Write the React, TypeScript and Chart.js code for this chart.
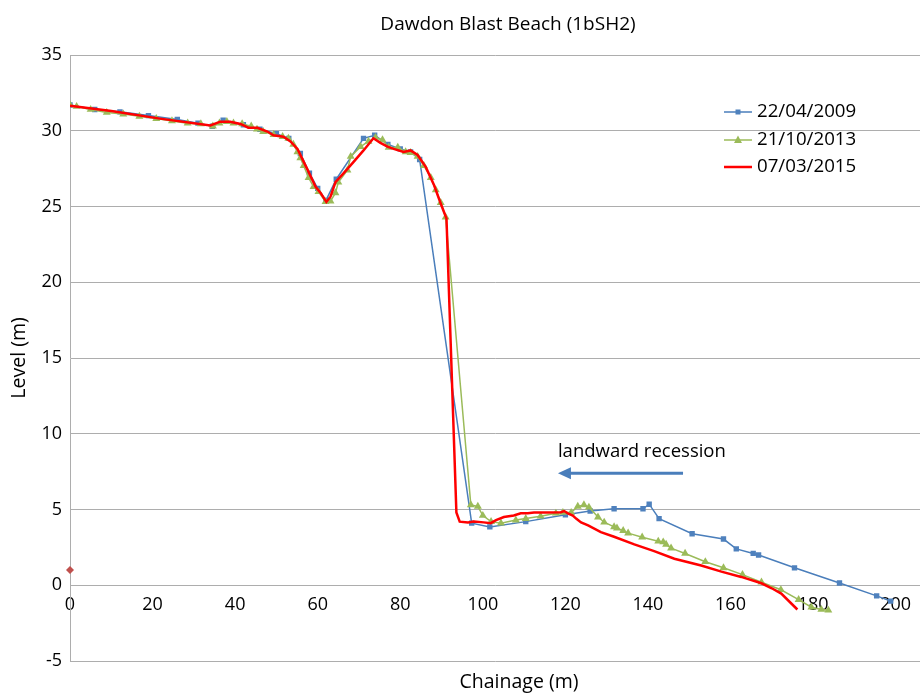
import React, { useEffect, useRef } from "react";
import { Chart, registerables } from "chart.js";

Chart.register(...registerables);

const chartTitle = "Dawdon Blast Beach (1bSH2)";
const xAxisTitle = "Chainage (m)";
const yAxisTitle = "Level (m)";
const annotationText = "landward recession";
const seriesLabels = ["22/04/2009", "21/10/2013", "07/03/2015"];

const xTickValues = [0, 20, 40, 60, 80, 100, 120, 140, 160, 180, 200];
const yTickValues = [-5, 0, 5, 10, 15, 20, 25, 30, 35];

const chainage2009 = [0, 6, 12.1, 19, 26, 31, 34.5, 37.1, 42, 46, 50, 53, 55.8, 58, 60, 62, 64.5, 71.1, 73.8, 77, 80, 82.5, 84.7, 97.3, 101.7, 110.4, 120, 126, 131.8, 138.8, 140.3, 142.7, 150.7, 158.3, 161.4, 165.5, 166.8, 175.5, 186.4, 195.4, 198.8];
const level2009 = [31.7, 31.4, 31.25, 31.0, 30.75, 30.5, 30.3, 30.7, 30.4, 30.1, 29.8, 29.5, 28.5, 27.2, 26.2, 25.4, 26.8, 29.5, 29.7, 29.1, 28.8, 28.6, 28.1, 4.1, 3.85, 4.2, 4.65, 4.9, 5.05, 5.05, 5.35, 4.4, 3.4, 3.05, 2.4, 2.1, 2.0, 1.15, 0.15, -0.7, -1.05];

const chainage2013 = [0, 1.6, 5, 8.9, 12.9, 16.8, 20.9, 24.7, 28.5, 31.7, 34.6, 36.2, 38, 39.6, 41.7, 43.9, 45.3, 46.8, 49.3, 51.5, 52.9, 54.1, 55.1, 55.8, 56.6, 57.8, 59, 60.2, 61.9, 63.1, 64.3, 65, 67.2, 68, 70.4, 72.3, 74, 75.7, 77.2, 79.4, 81.3, 82.5, 84.2, 85.7, 87.4, 88.6, 89.8, 91, 97.1, 98.8, 100, 102, 104.4, 108, 110.4, 114, 117.7, 119.4, 121.4, 123, 124.5, 125.7, 127.9, 129.4, 131.8, 132.5, 134, 135.2, 138.6, 142.5, 143.7, 144.4, 145.6, 149, 153.9, 158.3, 162.9, 167.5, 172.2, 176.5, 179.6, 182, 183.7];
const level2013 = [31.7, 31.6, 31.4, 31.2, 31.1, 30.95, 30.8, 30.65, 30.5, 30.45, 30.3, 30.5, 30.6, 30.5, 30.45, 30.3, 30.1, 29.94, 29.74, 29.61, 29.5, 29.1, 28.6, 28.2, 27.7, 26.9, 26.3, 25.97, 25.31, 25.35, 25.9, 26.6, 27.4, 28.3, 28.95, 29.3, 29.55, 29.4, 28.9, 28.9, 28.6, 28.55, 28.3, 27.7, 26.9, 26.1, 25.25, 24.3, 5.3, 5.2, 4.6, 4.2, 4.1, 4.3, 4.4, 4.55, 4.75, 4.8, 4.8, 5.2, 5.3, 5.15, 4.5, 4.16, 3.85, 3.77, 3.6, 3.44, 3.17, 2.9, 2.85, 2.7, 2.45, 2.1, 1.55, 1.15, 0.7, 0.2, -0.3, -0.95, -1.45, -1.6, -1.65];

const chainage2015 = [0, 10, 21.8, 34, 36.4, 38.8, 41.3, 43.2, 45.4, 47.8, 49.3, 51.7, 53.4, 55.1, 57.5, 59.5, 60.7, 62.1, 63.1, 64.3, 66.3, 68.7, 71.1, 73.5, 75.2, 76.9, 78.4, 80.8, 82.5, 84.2, 86.2, 88.2, 89.8, 91.2, 93.6, 94.4, 96.4, 97.8, 100.2, 101.9, 103.2, 105.1, 107.5, 109.2, 110.9, 112.4, 115.8, 118.9, 119.7, 120.6, 121.8, 122.6, 123.8, 125.5, 128.6, 131.8, 136.7, 141.5, 146.4, 152.9, 157.8, 162.6, 167.5, 170, 172.3, 176.2];
const level2015 = [31.65, 31.3, 30.8, 30.35, 30.6, 30.6, 30.45, 30.2, 30.2, 29.95, 29.7, 29.6, 29.3, 28.8, 27.45, 26.3, 25.9, 25.3, 25.65, 26.6, 27.2, 27.95, 28.7, 29.5, 29.2, 28.95, 28.8, 28.6, 28.7, 28.4, 27.6, 26.4, 25.2, 24.2, 4.8, 4.2, 4.15, 4.2, 4.15, 4.1, 4.3, 4.5, 4.6, 4.75, 4.75, 4.8, 4.8, 4.82, 4.9, 4.75, 4.6, 4.4, 4.15, 3.95, 3.5, 3.2, 2.7, 2.25, 1.75, 1.3, 0.9, 0.55, 0.13, -0.2, -0.55, -1.6];

const markerChainage = [0];
const markerLevel = [1.0];

// annotation arrow (data space)
const arrowFrom = { x: 148.5, y: 7.4 };
const arrowTo = { x: 118.2, y: 7.4 };
const annotationAt = { x: 118.2, y: 8.8 };

const FONT = "'Open Sans', sans-serif";
const BLUE_LINE = "#4A7EBB";
const BLUE_MARK = "#4F81BD";
const GREEN = "#9BBB59";
const RED = "#FF0000";
const DIAMOND = "#C0504D";
const GRID = "#ADADAD";

const toPoints = (xs: number[], ys: number[]) => xs.map((x, i) => ({ x, y: ys[i] }));

const textPlugin = {
  id: "texts",
  afterDraw(chart: any) {
    const ctx = chart.ctx as CanvasRenderingContext2D;
    const xs = chart.scales.x;
    const ys = chart.scales.y;
    ctx.save();
    ctx.fillStyle = "#000";
    // title
    ctx.font = `19px ${FONT}`;
    ctx.textAlign = "center";
    ctx.textBaseline = "middle";
    ctx.fillText(chartTitle, 508, 25);
    // x title
    ctx.font = `19.5px ${FONT}`;
    ctx.fillText(xAxisTitle, 519, 682);
    // y title
    ctx.save();
    ctx.translate(19, 358);
    ctx.rotate(-Math.PI / 2);
    ctx.fillText(yAxisTitle, 0, 0);
    ctx.restore();

    // legend
    const lx = 724;
    const rowY = [112, 140, 167];
    const styles = [
      { color: BLUE_LINE, mark: "rect", fill: BLUE_MARK, w: 1.5 },
      { color: GREEN, mark: "triangle", fill: GREEN, w: 1.5 },
      { color: RED, mark: "none", fill: RED, w: 2.5 },
    ];
    seriesLabels.forEach((label, i) => {
      const y = rowY[i];
      const s = styles[i];
      ctx.strokeStyle = s.color;
      ctx.lineWidth = s.w;
      ctx.beginPath();
      ctx.moveTo(lx, y);
      ctx.lineTo(lx + 28, y);
      ctx.stroke();
      ctx.fillStyle = s.fill;
      if (s.mark === "rect") {
        ctx.fillRect(lx + 11.5, y - 2.5, 5, 5);
      } else if (s.mark === "triangle") {
        ctx.beginPath();
        ctx.moveTo(lx + 14, y - 4.5);
        ctx.lineTo(lx + 18, y + 3);
        ctx.lineTo(lx + 10, y + 3);
        ctx.closePath();
        ctx.fill();
      }
      ctx.fillStyle = "#000";
      ctx.font = `18.7px ${FONT}`;
      ctx.textAlign = "left";
      ctx.textBaseline = "middle";
      ctx.fillText(label, lx + 33, y);
    });

    // annotation
    ctx.font = `18.5px ${FONT}`;
    ctx.textAlign = "left";
    ctx.textBaseline = "middle";
    ctx.fillStyle = "#000";
    ctx.fillText(annotationText, xs.getPixelForValue(annotationAt.x), ys.getPixelForValue(annotationAt.y));
    const ax1 = xs.getPixelForValue(arrowFrom.x);
    const ax2 = xs.getPixelForValue(arrowTo.x);
    const ay = ys.getPixelForValue(arrowFrom.y);
    ctx.strokeStyle = BLUE_LINE;
    ctx.fillStyle = BLUE_LINE;
    ctx.lineWidth = 3;
    ctx.beginPath();
    ctx.moveTo(ax1, ay);
    ctx.lineTo(ax2 + 10, ay);
    ctx.stroke();
    ctx.beginPath();
    ctx.moveTo(ax2, ay);
    ctx.lineTo(ax2 + 13, ay - 6);
    ctx.lineTo(ax2 + 13, ay + 6);
    ctx.closePath();
    ctx.fill();
    ctx.restore();
  },
};

export default function App() {
  const ref = useRef<HTMLCanvasElement | null>(null);
  useEffect(() => {
    document.body.style.margin = "0";
    const canvas = ref.current;
    if (!canvas) return;
    const chart = new Chart(canvas, {
      type: "line",
      data: {
        datasets: [
          {
            label: seriesLabels[0],
            data: toPoints(chainage2009, level2009),
            borderColor: BLUE_LINE,
            backgroundColor: BLUE_MARK,
            borderWidth: 1.5,
            pointStyle: "rect",
            pointRadius: 3.8,
            pointBorderWidth: 0,
            pointBackgroundColor: BLUE_MARK,
            tension: 0,
            order: 3,
          },
          {
            label: seriesLabels[1],
            data: toPoints(chainage2013, level2013),
            borderColor: GREEN,
            backgroundColor: GREEN,
            borderWidth: 1.5,
            pointStyle: "triangle",
            pointRadius: 4.6,
            pointBorderWidth: 0,
            pointBackgroundColor: GREEN,
            tension: 0,
            order: 2,
          },
          {
            label: seriesLabels[2],
            data: toPoints(chainage2015, level2015),
            borderColor: RED,
            backgroundColor: RED,
            borderWidth: 2.5,
            pointRadius: 0,
            tension: 0,
            order: 1,
          },
          {
            label: "marker",
            data: toPoints(markerChainage, markerLevel),
            showLine: false,
            clip: false,
            pointStyle: "rectRot",
            pointRadius: 4,
            pointBorderWidth: 0,
            pointBackgroundColor: DIAMOND,
            borderColor: DIAMOND,
            order: 0,
          },
        ],
      },
      options: {
        responsive: false,
        devicePixelRatio: 1,
        animation: false,
        events: [],
        layout: { padding: { top: 55, bottom: 32, left: 0, right: 0 } },
        plugins: {
          legend: { display: false },
          title: { display: false },
          tooltip: { enabled: false },
        },
        scales: {
          x: {
            type: "linear",
            position: { y: 0 } as any,
            min: 0,
            max: 206,
            afterBuildTicks: (scale: any) => {
              scale.ticks = xTickValues.map((v) => ({ value: v }));
            },
            ticks: {
              includeBounds: false,
              padding: 9,
              color: "#000",
              font: { family: FONT, size: 18 },
              maxRotation: 0,
              autoSkip: false,
            },
            grid: { display: false, drawTicks: false },
            border: { display: false },
          },
          y: {
            type: "linear",
            position: "left",
            min: -5,
            max: 35,
            afterBuildTicks: (scale: any) => {
              scale.ticks = yTickValues.map((v) => ({ value: v }));
            },
            afterFit: (scale: any) => {
              scale.width = 70;
            },
            ticks: {
              padding: 8,
              color: "#000",
              font: { family: FONT, size: 18 },
            },
            grid: { color: GRID, lineWidth: 1, drawTicks: false },
            border: { display: true, color: GRID, width: 1 },
          },
        },
      },
      plugins: [textPlugin],
    });
    return () => chart.destroy();
  }, []);
  return (
    <div style={{ width: 920, height: 693, overflow: "hidden" }}>
      <canvas ref={ref} width={925} height={693} style={{ display: "block" }} />
    </div>
  );
}
